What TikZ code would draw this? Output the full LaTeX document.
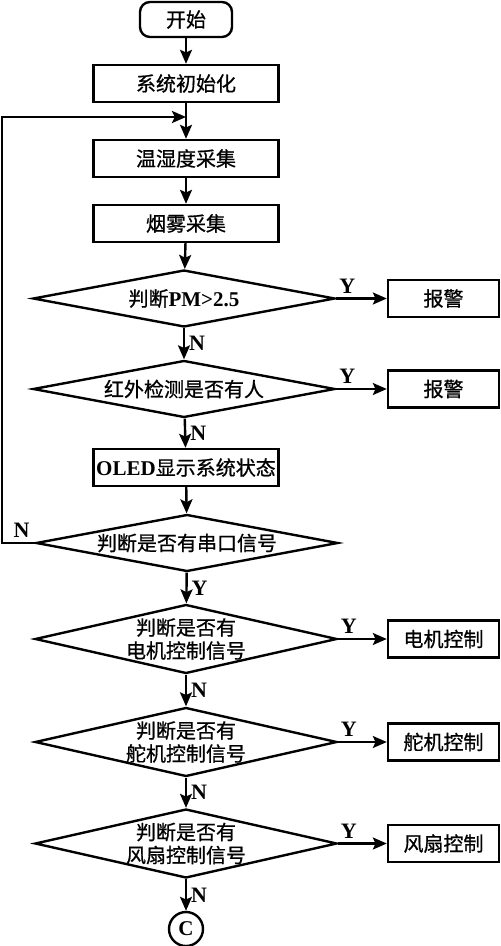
\documentclass[tikz,border=0pt]{standalone}
\usepackage{fontspec}
\setmainfont{Liberation Serif}
\newfontfamily\cjk{Noto Sans CJK SC}[FakeBold=0.8]
\usetikzlibrary{arrows.meta,shapes.geometric}
\newcommand{\lat}[1]{{\rmfamily\bfseries\fontsize{10.5}{11.5}\selectfont #1}}
\tikzset{
  fcbox/.style={
    draw, line width=1.2pt, inner sep=0pt, align=center,
    font=\fontsize{10}{11.5}\selectfont\cjk
  },
  startbox/.style={fcbox, rounded corners=5pt, minimum width=46pt, minimum height=17.5pt},
  procbox/.style={fcbox, minimum width=92.5pt, minimum height=18.5pt},
  outbox/.style={fcbox, minimum width=55.5pt, minimum height=18.5pt},
  decbox/.style={fcbox, diamond, minimum width=151pt, minimum height=28.5pt},
  tall/.style={minimum height=34.5pt},
  dtext/.style={font=\fontsize{10}{11.5}\selectfont\cjk, align=center, inner sep=0pt},
  conn/.style={draw, circle, line width=1.2pt, minimum size=17pt, inner sep=0pt,
    font=\fontsize{10.5}{12}\selectfont\bfseries},
  arr/.style={-{Stealth[length=7pt,width=6pt,inset=1.4pt]}, line width=1.2pt},
  yn/.style={font=\fontsize{11}{12}\selectfont\bfseries, inner sep=2pt}
}
\begin{document}
\begin{tikzpicture}[x=0.5pt,y=-0.5pt]
  \useasboundingbox (0,0) rectangle (500,946);
  % main column
  \node[startbox] (start) at (186,19.5) {开始};
  \node[procbox] (init) at (186,83.5) {系统初始化};
  \node[procbox] (temp) at (186,158.5) {温湿度采集};
  \node[procbox] (smoke) at (186,223.5) {烟雾采集};
  \node[decbox, label={[dtext]center:判断\lat{PM>2.5}}] (pm) at (184,298.5) {};
  \node[outbox] (alarmA) at (443.5,298.5) {报警};
  \node[decbox, label={[dtext]center:红外检测是否有人}] (ir) at (184,389) {};
  \node[outbox] (alarmB) at (443.5,389) {报警};
  \node[procbox] (oled) at (186,467.5) {\lat{OLED}显示系统状态};
  \node[decbox, label={[dtext]center:判断是否有串口信号}] (uart) at (187,543) {};
  \node[decbox, tall, label={[dtext]center:判断是否有\\电机控制信号}] (motor) at (186,639) {};
  \node[outbox] (motorctl) at (443.5,639) {电机控制};
  \node[decbox, tall, label={[dtext]center:判断是否有\\舵机控制信号}] (servo) at (186,742) {};
  \node[outbox] (servoctl) at (443.5,742) {舵机控制};
  \node[decbox, tall, label={[dtext]center:判断是否有\\风扇控制信号}] (fan) at (186,843.5) {};
  \node[outbox] (fanctl) at (443.5,843.5) {风扇控制};
  \node[conn] (cend) at (186,929) {C};
  % loop back
  \coordinate (loopA) at (2,543);
  \coordinate (loopB) at (186,117);
  % connectors
  \draw[arr] (start) -- (init);
  \draw[arr] (init) -- (temp);
  \draw[arr] (temp) -- (smoke);
  \draw[arr] (smoke) -- (pm);
  \draw[arr] (pm) -- node[yn, above, pos=0.22] {Y} (alarmA);
  \draw[arr] (pm) -- node[yn, right] {N} (ir);
  \draw[arr] (ir) -- node[yn, above, pos=0.22] {Y} (alarmB);
  \draw[arr] (ir) -- node[yn, right] {N} (oled);
  \draw[arr] (oled) -- (uart);
  \draw[arr] (uart.west) -- node[yn, above, pos=0.4] {N} (loopA) |- (loopB);
  \draw[arr] (uart) -- node[yn, right] {Y} (motor);
  \draw[arr] (motor) -- node[yn, above, pos=0.22] {Y} (motorctl);
  \draw[arr] (motor) -- node[yn, right] {N} (servo);
  \draw[arr] (servo) -- node[yn, above, pos=0.22] {Y} (servoctl);
  \draw[arr] (servo) -- node[yn, right] {N} (fan);
  \draw[arr] (fan) -- node[yn, above, pos=0.22] {Y} (fanctl);
  \draw[arr] (fan) -- node[yn, right] {N} (cend);
\end{tikzpicture}
\end{document}
